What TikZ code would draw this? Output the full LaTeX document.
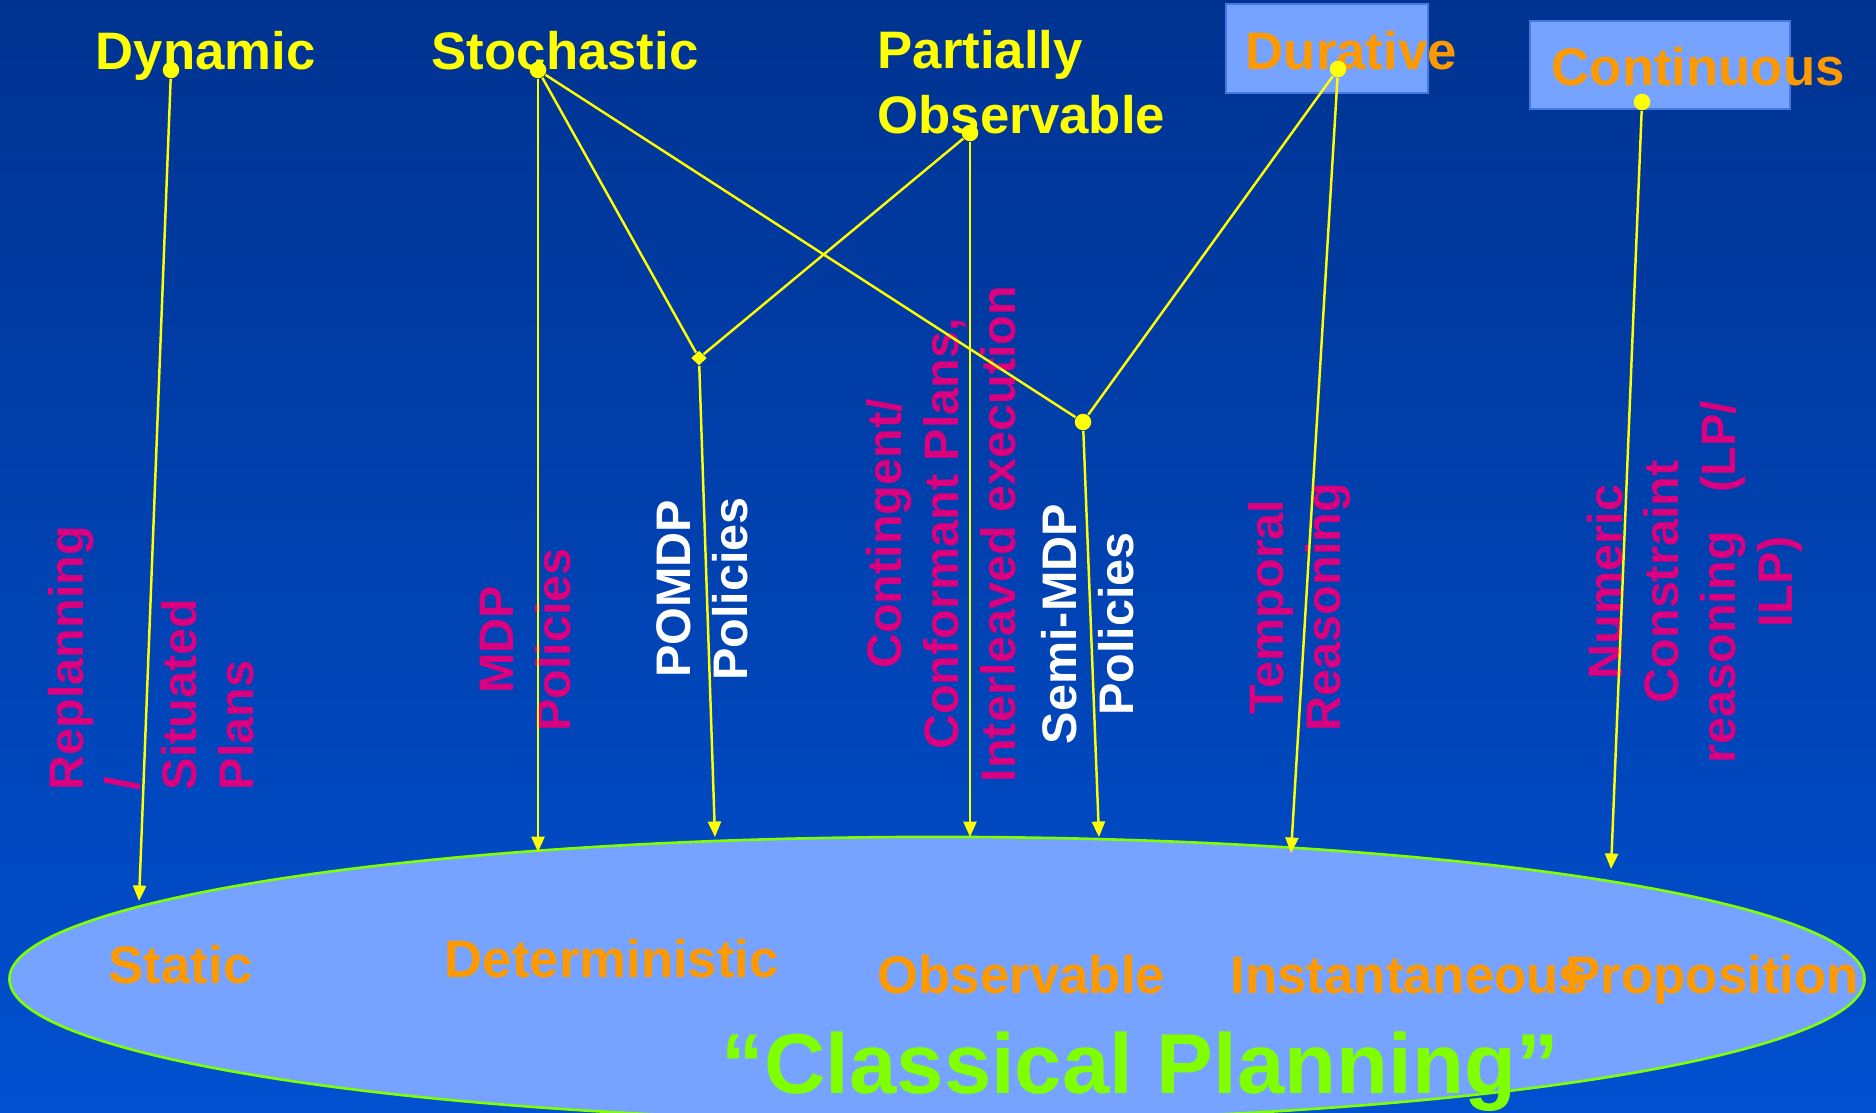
\documentclass[tikz,border=0pt]{standalone}
\usepackage{fontspec}
\setmainfont{Liberation Sans}
\usetikzlibrary{shapes.geometric,arrows.meta}

\definecolor{bgtop}{RGB}{0,51,145}
\definecolor{bgbot}{RGB}{0,80,208}
\definecolor{ylw}{RGB}{255,255,0}
\definecolor{org}{RGB}{255,153,0}
\definecolor{mag}{RGB}{218,0,128}
\definecolor{lime}{RGB}{128,255,0}
\definecolor{pale}{RGB}{117,163,255}
\definecolor{paleedge}{RGB}{70,120,225}

\begin{document}
\begin{tikzpicture}[x=0.01cm,y=-0.01cm,
  toplabel/.style={inner sep=0pt,anchor=base west,align=left,text=ylw,
    font=\bfseries\fontsize{15pt}{18.2pt}\selectfont},
  botlabel/.style={inner sep=0pt,anchor=base west,text=org,
    font=\bfseries\fontsize{15pt}{18.2pt}\selectfont},
  classic/.style={inner sep=0pt,anchor=base west,text=lime,
    font=\bfseries\fontsize{24.2pt}{29pt}\selectfont},
  vlabel/.style={inner sep=0pt,rotate=90,anchor=base,align=center,text=mag,
    font=\bfseries\fontsize{13.8pt}{16.1pt}\selectfont},
  pbox/.style={draw=paleedge,line width=0.4pt,fill=pale,inner sep=0pt},
  dot/.style={circle,fill=ylw,inner sep=0pt,minimum size=0.165cm},
  jdiamond/.style={diamond,fill=ylw,inner sep=0pt,minimum width=0.16cm,minimum height=0.15cm},
  conn/.style={draw=ylw,line width=0.7pt},
  arr/.style={conn,-{Triangle[length=4.4pt,width=3.7pt]}}
]
\useasboundingbox (0,0) rectangle (1876,1112);
\clip (0,0) rectangle (1876,1112);
\shade[top color=bgtop,bottom color=bgbot] (0,0) rectangle (1876,1112);

% the classical-planning ellipse and its properties
\node[ellipse,draw=lime,line width=0.75pt,fill=pale,minimum width=18.54cm,
  minimum height=2.84cm,inner sep=0pt] (cp) at (937,979) {};
\node[botlabel] (st) at (108,983) {Static};
\node[botlabel] (det) at (444,977) {Deterministic};
\node[botlabel] (obs) at (877,993) {Observable};
\node[botlabel] (ins) at (1230,993) {Instantaneous};
\node[botlabel] (prop) at (1565,993) {Proposition};
\node[classic] (cl) at (721,1093) {“Classical Planning”};

% dimensions along the top (multi-line nodes sit on their last baseline)
\node[pbox,minimum width=2.02cm,minimum height=0.89cm] (dur-box) at (1327,48.5) {};
\node[pbox,minimum width=2.60cm,minimum height=0.88cm] (con-box) at (1660,65) {};
\node[toplabel] (dyn-l) at (95,69) {Dynamic};
\node[toplabel] (sto-l) at (431,69) {Stochastic};
\node[toplabel] (po-l) at (877,133) {Partially\\Observable};
\node[toplabel,text=org] (dur-l) at (1245,69) {Durative};
\node[toplabel,text=org] (con-l) at (1551,85) {Continuous};

% planning approaches, written upwards
\node[vlabel,anchor=base west,align=left] (l-replan) at (253,791) {Replanning\\/\\Situated\\Plans};
\node[vlabel] (l-mdp) at (570,640) {MDP\\Policies};
\node[vlabel,text=white] (l-pomdp) at (747,589) {POMDP\\Policies};
\node[vlabel] (l-cont) at (1015,534) {Contingent/\\Conformant Plans,\\Interleaved execution};
\node[vlabel,text=white] (l-smdp) at (1133,624) {Semi-MDP\\Policies};
\node[vlabel] (l-temp) at (1340,607) {Temporal\\Reasoning};
\node[vlabel] (l-num) at (1792,582) {Numeric\\Constraint\\reasoning\hspace{0.8em}(LP/\\ILP)};

% start points and junctions
\node[dot] (dyn) at (171,70) {};
\node[dot] (sto) at (538,70) {};
\node[dot] (po) at (970,133) {};
\node[dot] (dur) at (1338,69) {};
\node[dot] (con) at (1642,102) {};
\node[jdiamond] (pj) at (699,358) {};
\node[dot] (sj) at (1083,422) {};

% arrow ends on the ellipse
\coordinate (t-static) at (139,901);
\coordinate (t-mdp) at (538,852);
\coordinate (t-pomdp) at (715,837);
\coordinate (t-cont) at (970,837);
\coordinate (t-smdp) at (1099,837);
\coordinate (t-temp) at (1291,853);
\coordinate (t-num) at (1611,869);

\draw[arr] (dyn) -- (t-static);
\draw[arr] (sto) -- (t-mdp);
\draw[conn] (sto) -- (pj);
\draw[conn] (sto) -- (sj);
\draw[conn] (po) -- (pj);
\draw[arr] (pj) -- (t-pomdp);
\draw[arr] (po) -- (t-cont);
\draw[conn] (dur) -- (sj);
\draw[arr] (sj) -- (t-smdp);
\draw[arr] (dur) -- (t-temp);
\draw[arr] (con) -- (t-num);
\end{tikzpicture}
\end{document}
